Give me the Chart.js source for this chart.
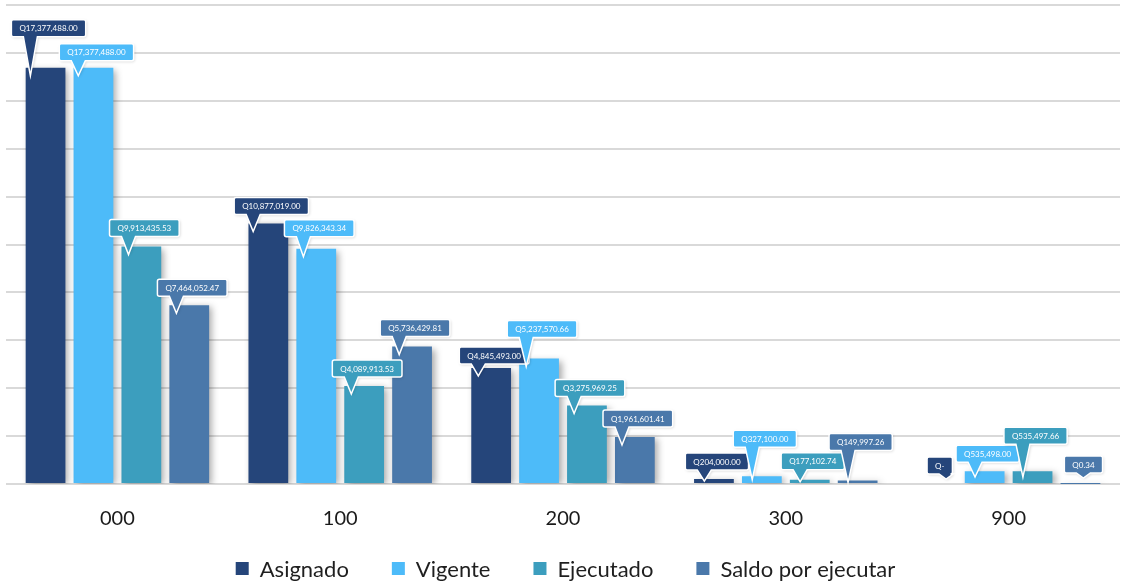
<!DOCTYPE html>
<html>
<head>
<meta charset="utf-8">
<script src="https://cdn.jsdelivr.net/npm/chart.js@4.4.1/dist/chart.umd.min.js"></script>
<style>
html,body{margin:0;padding:0;background:#fff;}
#wrap{width:1124px;height:582px;position:relative;}
</style>
</head>
<body>
<div id="wrap"><canvas id="c" width="1124" height="582"></canvas></div>
<script>
const categories = ['000', '100', '200', '300', '900'];
const seriesNames = ['Asignado', 'Vigente', 'Ejecutado', 'Saldo por ejecutar'];
const asignado = [17377488.00, 10877019.00, 4845493.00, 204000.00, 0];
const vigente = [17377488.00, 9826343.34, 5237570.66, 327100.00, 535498.00];
const ejecutado = [9913435.53, 4089913.53, 3275969.25, 177102.74, 535497.66];
const saldo = [7464052.47, 5736429.81, 1961601.41, 149997.26, 0.34];
const yMax = 20000000;
const yStep = 2000000;

const colors = ['#25457A', '#4DBBF9', '#3C9EBE', '#4A78AA'];
const FONT = 'Lato, "Liberation Sans", sans-serif';
// vertical lift of each callout box above its bar (style only)
const calloutLift = [
  [31, 9, 4, 9, 10],
  [7, 12, 21, 29, 9],
  [10, 9, 9, 10, 27],
  [9, 10, 10, 30, 10]
];

function fmtQ(v) {
  if (v === 0) return 'Q-';
  return 'Q' + v.toLocaleString('en-US', {minimumFractionDigits: 2, maximumFractionDigits: 2});
}

const shadowPlugin = {
  id: 'barShadow',
  beforeDatasetsDraw(chart) {
    const ctx = chart.ctx;
    ctx.save();
    ctx.shadowColor = 'rgba(0,0,0,0.35)';
    ctx.shadowBlur = 7;
    ctx.shadowOffsetX = 3;
    ctx.shadowOffsetY = 2;
  },
  afterDatasetsDraw(chart) {
    chart.ctx.restore();
  }
};

const calloutPlugin = {
  id: 'callouts',
  afterDraw(chart) {
    const ctx = chart.ctx;
    ctx.save();
    ctx.font = '8px ' + FONT;
    ctx.textBaseline = 'middle';
    ctx.textAlign = 'center';
    chart.data.datasets.forEach((ds, di) => {
      const meta = chart.getDatasetMeta(di);
      meta.data.forEach((bar, i) => {
        const p = bar.getProps(['x', 'y', 'base', 'width'], true);
        const txt = fmtQ(ds.data[i]);
        const tw = ctx.measureText(txt).width;
        const bw = tw + 16, bh = 17;
        const top = Math.min(p.y, p.base);
        const h = Math.abs(p.base - p.y);
        const cx = p.x + 3;
        const left = cx - bw / 2;
        const bottom = top - calloutLift[di][i];
        const btop = bottom - bh;
        const tipY = h > 1 ? top + Math.min(8, Math.max(2, h * 0.5)) : top - 5;
        const tipX = left + 19;
        const r = 2;
        ctx.beginPath();
        ctx.moveTo(left + r, btop);
        ctx.lineTo(left + bw - r, btop);
        ctx.quadraticCurveTo(left + bw, btop, left + bw, btop + r);
        ctx.lineTo(left + bw, bottom - r);
        ctx.quadraticCurveTo(left + bw, bottom, left + bw - r, bottom);
        ctx.lineTo(left + 26, bottom);
        ctx.lineTo(tipX, tipY);
        ctx.lineTo(left + 12, bottom);
        ctx.lineTo(left + r, bottom);
        ctx.quadraticCurveTo(left, bottom, left, bottom - r);
        ctx.lineTo(left, btop + r);
        ctx.quadraticCurveTo(left, btop, left + r, btop);
        ctx.closePath();
        ctx.shadowColor = 'rgba(0,0,0,0.18)';
        ctx.shadowBlur = 3;
        ctx.shadowOffsetX = 1;
        ctx.shadowOffsetY = 1;
        ctx.fillStyle = colors[di];
        ctx.fill();
        ctx.shadowColor = 'transparent';
        ctx.lineWidth = 1.5;
        ctx.strokeStyle = '#ffffff';
        ctx.stroke();
        ctx.fillStyle = '#ffffff';
        ctx.fillText(txt, cx, btop + bh / 2 + 0.5);
      });
    });
    ctx.restore();
  }
};

const legendPlugin = {
  id: 'bottomLegend',
  afterDraw(chart) {
    const ctx = chart.ctx;
    ctx.save();
    ctx.font = '22px ' + FONT;
    ctx.textBaseline = 'middle';
    ctx.textAlign = 'left';
    const box = 13, gapText = 11, gapItem = 43;
    const items = chart.data.datasets.map((ds, k) => ({label: ds.label, color: colors[k], w: ctx.measureText(ds.label).width}));
    const total = items.reduce((s, it) => s + box + gapText + it.w, 0) + gapItem * (items.length - 1);
    let x = 234 + (897 - 234 - total) / 2;
    const cy = 568.5;
    items.forEach(it => {
      ctx.fillStyle = it.color;
      ctx.fillRect(x, cy - box / 2, box, box);
      x += box + gapText;
      ctx.fillStyle = '#1f1f1f';
      ctx.fillText(it.label, x, cy + 1);
      x += it.w + gapItem;
    });
    ctx.restore();
  }
};

const seriesData = [asignado, vigente, ejecutado, saldo];

new Chart(document.getElementById('c'), {
  type: 'bar',
  data: {
    labels: categories,
    datasets: seriesNames.map((name, k) => ({
      label: name,
      data: seriesData[k],
      backgroundColor: colors[k],
      borderWidth: 0,
      categoryPercentage: 0.86,
      barPercentage: 0.83
    }))
  },
  options: {
    responsive: false,
    animation: false,
    devicePixelRatio: 1,
    layout: {padding: {top: 5, left: 6, right: 4, bottom: 36}},
    plugins: {
      tooltip: {enabled: false},
      legend: {display: false}
    },
    scales: {
      x: {
        grid: {display: false},
        border: {display: false},
        ticks: {
          color: '#1a1a1a',
          padding: 15,
          font: {size: 20, family: FONT}
        }
      },
      y: {
        min: 0,
        max: yMax,
        ticks: {display: false, stepSize: yStep},
        border: {display: false},
        grid: {color: '#d9d9d9', lineWidth: 2, drawTicks: false}
      }
    }
  },
  plugins: [shadowPlugin, calloutPlugin, legendPlugin]
});
</script>
</body>
</html>
